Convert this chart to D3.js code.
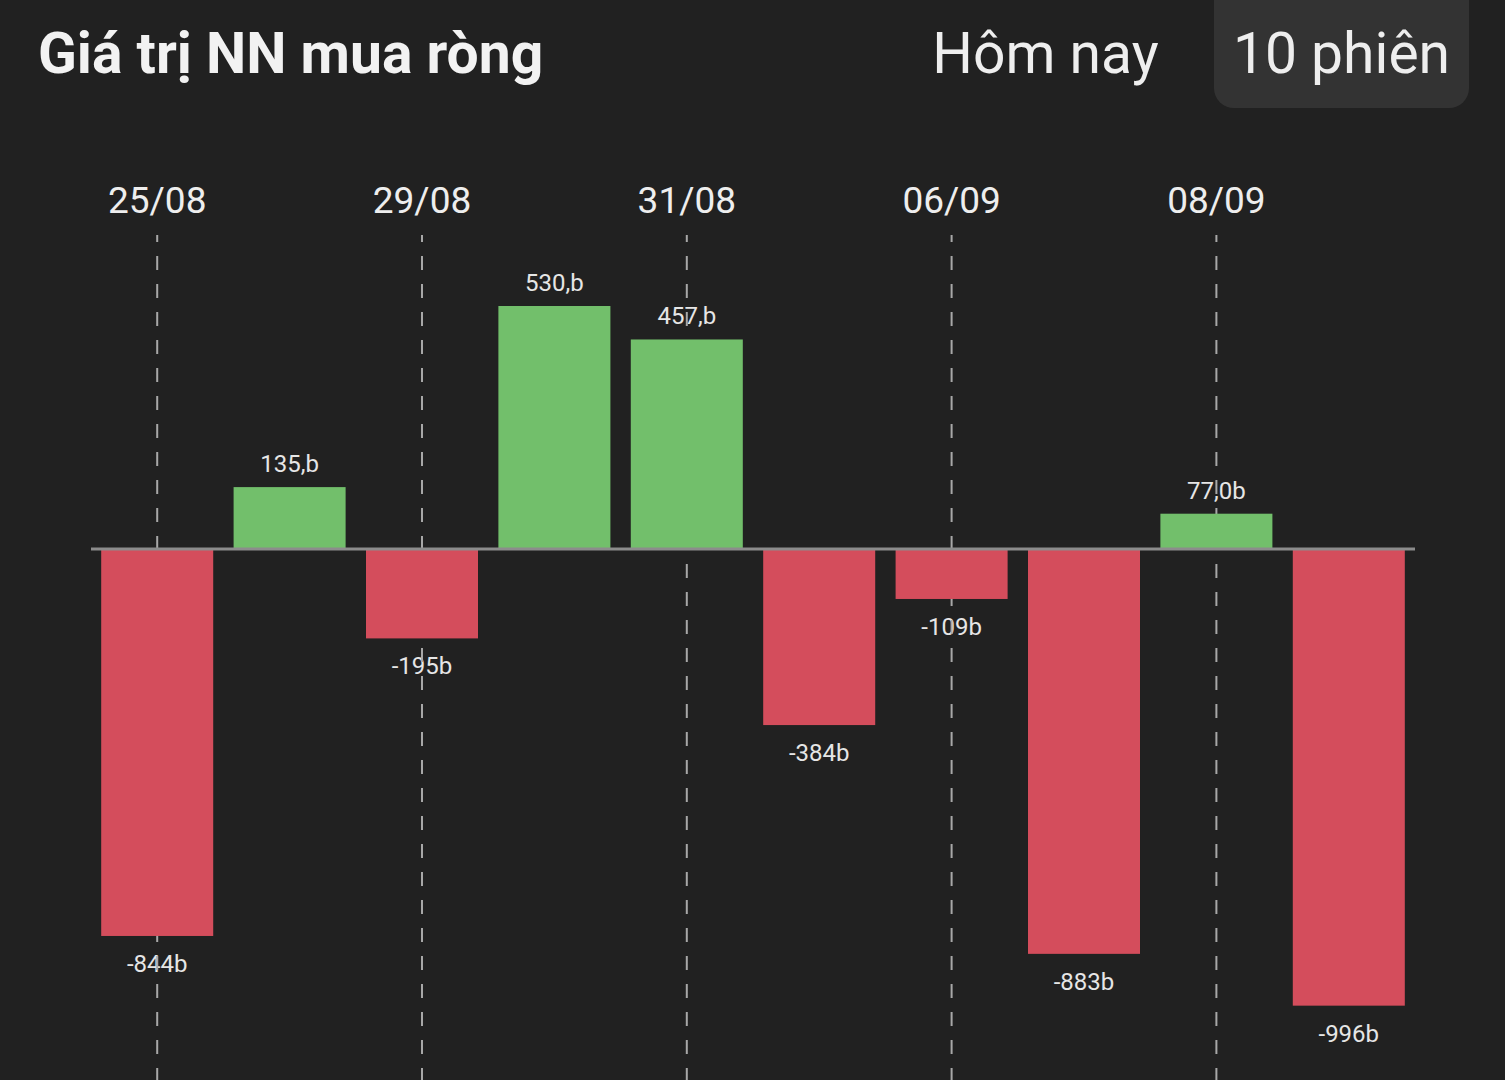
<!DOCTYPE html>
<html>
<head>
<meta charset="utf-8">
<script src="https://cdn.jsdelivr.net/npm/d3@7"></script>
<style>
  html, body { margin: 0; padding: 0; background: #212121; }
  svg { display: block; }
</style>
</head>
<body>
<svg id="chart" width="1505" height="1080"></svg>
<script>
// ---- data ----
const dates = ["25/08", "28/08", "29/08", "30/08", "31/08", "05/09", "06/09", "07/09", "08/09", "11/09"];
const values = [-844, 135, -195, 530, 457, -384, -109, -883, 77.0, -996];
const valueLabels = ["-844b", "135,b", "-195b", "530,b", "457,b", "-384b", "-109b", "-883b", "77,0b", "-996b"];
const tickLabels = ["25/08", "29/08", "31/08", "06/09", "08/09"];
const title = "Giá trị NN mua ròng";
const tabs = ["Hôm nay", "10 phiên"];

const svg = d3.select("#chart");
const W = 1505, H = 1080;

svg.append("rect").attr("width", W).attr("height", H).attr("fill", "#212121");

// header
svg.append("text").attr("x", 38).attr("y", 73)
  .attr("font-family", "Roboto").attr("font-weight", 700).attr("font-size", 57)
  .attr("fill", "#f2f2f2").text(title);

svg.append("rect").attr("x", 1214).attr("y", -20).attr("width", 255).attr("height", 128)
  .attr("rx", 20).attr("fill", "#333333");

svg.append("text").attr("x", 1045.5).attr("y", 73).attr("text-anchor", "middle")
  .attr("font-family", "Roboto").attr("font-size", 57)
  .attr("fill", "#eeeeee").text(tabs[0]);
svg.append("text").attr("x", 1341.5).attr("y", 73).attr("text-anchor", "middle")
  .attr("font-family", "Roboto").attr("font-size", 57)
  .attr("fill", "#eeeeee").text(tabs[1]);

// scales
const x = d3.scaleBand().domain(dates).range([91, 1415]).paddingInner(0.154).paddingOuter(0.077);
const y = d3.scaleLinear().domain([-1000, 600]).range([549 + 1000 * 0.4585, 549 - 600 * 0.4585]);

const cx = d => x(d) + x.bandwidth() / 2;

// x axis (tick labels on top)
const axis = d3.axisTop(x).tickValues(tickLabels).tickSize(0).tickPadding(0);
const gAxis = svg.append("g").attr("transform", "translate(0,213)").call(axis);
gAxis.select(".domain").remove();
gAxis.selectAll("text")
  .attr("font-family", "Roboto").attr("font-size", 37)
  .attr("fill", "#eeeeee").attr("dy", 0);

// value labels
const lab = svg.append("g");
lab.selectAll("text").data(values).join("text")
  .attr("x", (d, i) => cx(dates[i]))
  .attr("y", d => d >= 0 ? y(d) - 15 : y(d) + 36)
  .attr("text-anchor", "middle")
  .attr("font-family", "Roboto").attr("font-size", 24)
  .attr("fill", "#e6e6e6")
  .text((d, i) => valueLabels[i]);

// dashed gridlines
svg.append("g").selectAll("line").data(tickLabels).join("line")
  .attr("x1", d => cx(d)).attr("x2", d => cx(d))
  .attr("y1", 235).attr("y2", H)
  .attr("stroke", "#a8a8a8").attr("stroke-width", 2)
  .attr("stroke-dasharray", "14 14").attr("stroke-dashoffset", 7);

// bars
svg.append("g").selectAll("rect").data(values).join("rect")
  .attr("x", (d, i) => x(dates[i]))
  .attr("width", x.bandwidth())
  .attr("y", d => Math.min(y(d), y(0)))
  .attr("height", d => Math.abs(y(d) - y(0)))
  .attr("fill", d => d >= 0 ? "#72bf6b" : "#d44d5c");

// zero line
svg.append("line")
  .attr("x1", x.range()[0]).attr("x2", x.range()[1])
  .attr("y1", y(0)).attr("y2", y(0))
  .attr("stroke", "#8c8c8c").attr("stroke-width", 3);
</script>
</body>
</html>
